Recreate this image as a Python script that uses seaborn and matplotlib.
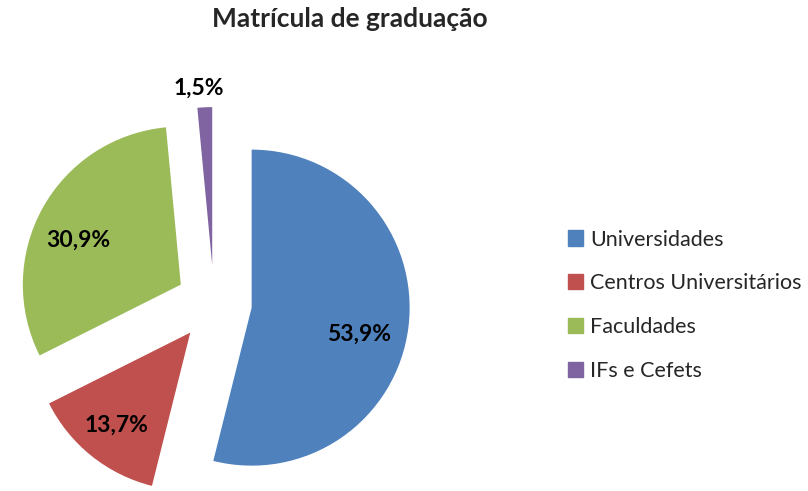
import numpy as np
import matplotlib
matplotlib.use("Agg")
import matplotlib.pyplot as plt
import seaborn as sns

categories = ["Universidades", "Centros Universitários", "Faculdades", "IFs e Cefets"]
shares = [53.9, 13.7, 30.9, 1.5]
colors = ["#4F81BD", "#C0504D", "#9BBB59", "#8064A2"]

sns.set_theme(style="white")
plt.rcParams["font.family"] = ["Lato", "DejaVu Sans"]

fig = plt.figure(figsize=(8.08, 4.91), dpi=100)
ax = fig.add_axes([0, 0, 1, 1])

wedges, _ = ax.pie(shares, colors=colors, startangle=90, counterclock=False,
                   explode=[0.24] * len(shares), radius=1,
                   wedgeprops=dict(linewidth=0))

# pie centre at (214, 303) px from top-left, radius 158 px
r_px = 158
cx, cy = 214, 491 - 303
ax.set_aspect("auto")
ax.set_xlim(-cx / r_px, (808 - cx) / r_px)
ax.set_ylim(-cy / r_px, (491 - cy) / r_px)
ax.axis("off")

label_dist = [0.7, 0.75, 0.71, 1.12]
angle_nudge = [-7, 0, 5.5, 1.5]
for w, val, d, da in zip(wedges, shares, label_dist, angle_nudge):
    ang = np.deg2rad((w.theta1 + w.theta2) / 2 + da)
    x = w.center[0] + d * np.cos(ang)
    y = w.center[1] + d * np.sin(ang)
    ax.text(x, y, f"{val:.1f}%".replace(".", ","), ha="center", va="center",
            fontsize=16.5, fontweight="bold", color="black")

fig.suptitle("Matrícula de graduação", x=0.433, y=0.985, fontsize=19,
             fontweight="bold", va="top")

handles = [plt.Rectangle((0, 0), 1, 1, color=c) for c in colors]
fig.legend(handles, categories, loc="upper left", bbox_to_anchor=(0.692, 0.55),
           frameon=False, fontsize=15.5, handlelength=0.7, handleheight=0.7,
           handletextpad=0.35, labelspacing=1.1, borderaxespad=0)

fig.savefig("out.png", dpi=100)
